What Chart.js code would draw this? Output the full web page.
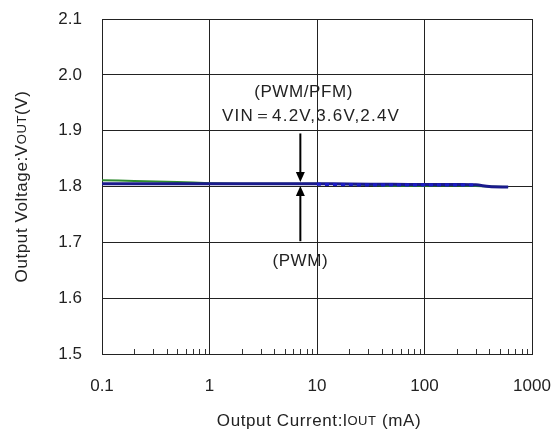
<!DOCTYPE html>
<html>
<head>
<meta charset="utf-8">
<script src="https://cdn.jsdelivr.net/npm/chart.js@4"></script>
<style>
  html, body { margin: 0; padding: 0; background: #fff; }
  #wrap { width: 556px; height: 435px; }
</style>
</head>
<body>
<div id="wrap"><canvas id="vout"></canvas></div>
<script>
// Output current (mA) and output voltage (V)
const currentMA = [0.1, 0.2, 0.5, 1, 2, 5, 10, 20, 50, 100, 200, 300, 400, 600];
const voutGreen = [1.811, 1.810, 1.808, 1.806, 1.805, 1.805, 1.805, 1.804, 1.8015, 1.8015, 1.802, 1.801, 1.800, 1.799];
const voutPWM   = [1.805, 1.805, 1.805, 1.805, 1.805, 1.805, 1.805, 1.8045, 1.804, 1.8035, 1.8035, 1.803, 1.800, 1.799];
const voutPFM   = [null, null, null, null, null, null, 1.804, 1.803, 1.8025, 1.8025, 1.8025, 1.8025, null, null];
const xTicks = [0.1, 1, 10, 100, 1000];
const yTicks = [1.5, 1.6, 1.7, 1.8, 1.9, 2.0, 2.1];

const FONT = "'Liberation Sans', Arial, sans-serif";

function pts(ys) {
  return currentMA.map((x, i) => ({ x: x, y: ys[i] }));
}

// titles with small-caps "OUT", annotation text, arrows, minor ticks
const extras = {
  id: "extras",
  afterDraw(chart) {
    const ctx = chart.ctx;
    const xs = chart.scales.x;
    const ys = chart.scales.y;
    const area = chart.chartArea;
    ctx.save();

    // minor log ticks on the bottom edge
    ctx.strokeStyle = "#333";
    ctx.lineWidth = 1;
    for (let d = 0.1; d < 1000; d *= 10) {
      for (let m = 2; m <= 9; m++) {
        const px = Math.round(xs.getPixelForValue(d * m)) + 0.5;
        ctx.beginPath();
        ctx.moveTo(px, area.bottom);
        ctx.lineTo(px, area.bottom - 5);
        ctx.stroke();
      }
    }

    // mixed-size text helper
    function mixed(parts, cx, cy) {
      let w = 0;
      parts.forEach(p => { ctx.font = p[1] + "px " + FONT; w += ctx.measureText(p[0]).width; });
      let x = cx - w / 2;
      parts.forEach(p => {
        ctx.font = p[1] + "px " + FONT;
        ctx.fillText(p[0], x, cy);
        x += ctx.measureText(p[0]).width;
      });
    }
    ctx.fillStyle = "#222";
    ctx.textBaseline = "middle";
    ctx.textAlign = "left";
    ctx.letterSpacing = "0.6px";

    // x title
    mixed([["Output Current:", 17], ["l", 17], ["OUT", 13], [" (mA)", 17]], (area.left + area.right) / 2 + 2, 421);
    // y title
    ctx.save();
    ctx.translate(22, (area.top + area.bottom) / 2);
    ctx.rotate(-Math.PI / 2);
    mixed([["Output Voltage:V", 17], ["OUT", 13], ["(V)", 17]], 0, 0);
    ctx.restore();

    // annotations
    ctx.textAlign = "center";
    ctx.font = "17px " + FONT;
    ctx.fillText("(PWM/PFM)", xs.getPixelForValue(7.5), ys.getPixelForValue(1.968));
    ctx.letterSpacing = "1.2px";
    ctx.fillText("VIN\uFF1D4.2V,3.6V,2.4V", xs.getPixelForValue(8.8), ys.getPixelForValue(1.925));
    ctx.letterSpacing = "0.6px";
    ctx.fillText("(PWM)", xs.getPixelForValue(7), ys.getPixelForValue(1.666));

    function arrow(xv, y0, y1) {
      const px = xs.getPixelForValue(xv);
      const a = ys.getPixelForValue(y0);
      const b = ys.getPixelForValue(y1);
      const dir = b > a ? 1 : -1;
      ctx.strokeStyle = "#000";
      ctx.fillStyle = "#000";
      ctx.lineWidth = 2;
      ctx.beginPath();
      ctx.moveTo(px, a);
      ctx.lineTo(px, b - dir * 8);
      ctx.stroke();
      ctx.beginPath();
      ctx.moveTo(px, b);
      ctx.lineTo(px - 4.5, b - dir * 10);
      ctx.lineTo(px + 4.5, b - dir * 10);
      ctx.closePath();
      ctx.fill();
    }
    arrow(7, 1.895, 1.808);
    arrow(7, 1.702, 1.801);

    ctx.restore();
  }
};

new Chart(document.getElementById("vout"), {
  type: "line",
  data: {
    datasets: [
      { label: "PWM", data: pts(voutPWM), borderColor: "#1a1a8c", borderWidth: 3, order: 1 },
      { label: "VIN green", data: pts(voutGreen), borderColor: "#2e8b2e", borderWidth: 2, order: 2 },
      { label: "PFM", data: pts(voutPFM), borderColor: "#1c1cc8", borderWidth: 3, borderDash: [4, 4], order: 0 }
    ]
  },
  options: {
    responsive: true,
    maintainAspectRatio: false,
    animation: false,
    devicePixelRatio: 1,
    layout: { padding: { top: 19, right: 24, left: 0, bottom: 0 } },
    elements: { point: { radius: 0 }, line: { tension: 0.3 } },
    spanGaps: false,
    plugins: { legend: { display: false }, tooltip: { enabled: false } },
    scales: {
      x: {
        type: "logarithmic",
        min: 0.1,
        max: 1000,
        afterBuildTicks: s => { s.ticks = xTicks.map(v => ({ value: v })); },
        afterFit: s => { s.height = 81; s.paddingLeft = 0; s.paddingRight = 0; },
        ticks: {
          color: "#222",
          font: { family: FONT, size: 17 },
          padding: 22,
          maxRotation: 0,
          autoSkip: false,
          callback: v => String(v)
        },
        grid: { color: "#222", lineWidth: 1, drawTicks: false },
        border: { color: "#222", width: 1 }
      },
      y: {
        min: 1.5,
        max: 2.1,
        afterBuildTicks: s => { s.ticks = yTicks.map(v => ({ value: v })); },
        afterFit: s => { s.width = 102; s.paddingTop = 0; s.paddingBottom = 0; },
        ticks: {
          color: "#222",
          font: { family: FONT, size: 17 },
          padding: 20,
          callback: v => v.toFixed(1)
        },
        grid: { color: "#222", lineWidth: 1, drawTicks: false },
        border: { color: "#222", width: 1 }
      }
    }
  },
  plugins: [extras]
});
</script>
</body>
</html>
